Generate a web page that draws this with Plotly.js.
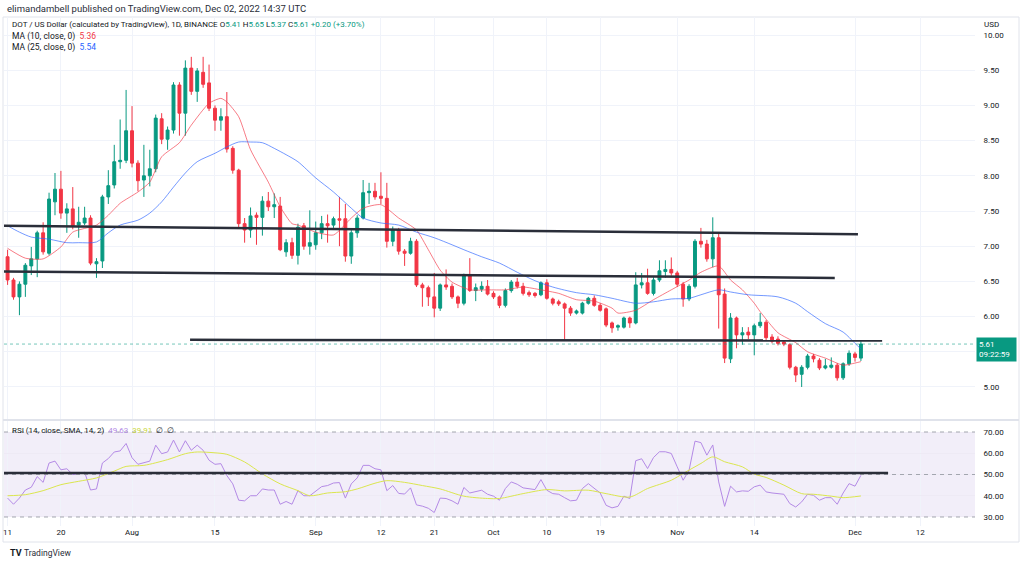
<!DOCTYPE html>
<html>
<head>
<meta charset="utf-8">
<script src="https://cdn.plot.ly/plotly-3.0.1.min.js"></script>
<style>
  html, body { margin: 0; padding: 0; background: #fff; }
  #chart { width: 1024px; height: 565px; }
</style>
</head>
<body>
<div id="chart"></div>
<script>
// DOT/USD daily candles, Jul 11 - Dec 2 2022
var firstDay = "2022-07-11";

var opens = [
  6.85,6.52,6.28,6.46,6.72,6.82,7.19,6.90,7.63,7.81,7.47,7.53,7.30,7.33,7.40,6.75,6.79,7.70,7.87,8.20,8.22,
  8.64,8.18,7.94,8.00,8.10,8.81,8.52,8.65,9.29,8.89,9.53,9.20,9.47,9.32,8.96,8.79,8.84,8.39,8.08,7.32,7.23,7.44,7.41,7.64,7.56,7.57,6.92,7.05,6.87,7.29,7.00,
  7.02,7.19,7.32,7.30,7.39,7.39,6.86,7.19,7.40,7.76,7.78,7.71,7.68,7.07,7.23,6.93,6.90,7.07,6.45,6.41,6.28,6.12,6.45,6.43,6.28,6.19,6.58,6.37,6.39,6.43,
  6.33,6.28,6.16,6.37,6.49,6.43,6.34,6.33,6.31,6.48,6.25,6.21,6.18,6.12,6.05,6.05,6.19,6.26,6.16,6.11,5.91,5.85,5.85,5.98,5.91,6.45,6.48,6.33,6.52,6.64,6.67,
  6.62,6.46,6.25,6.43,7.07,7.03,6.82,7.12,6.32,5.40,5.98,5.74,5.78,5.74,5.87,5.92,5.71,5.68,5.64,5.60,5.28,5.18,5.28,5.44,5.38,5.27,5.28,5.31,5.13,5.33,
  5.47,5.41
];
var highs = [
  6.95,6.55,6.50,6.76,6.99,7.22,7.34,7.76,8.04,8.07,7.61,7.84,7.56,7.56,7.44,6.83,7.73,8.08,8.44,8.80,9.22,
  8.99,8.22,8.44,8.37,8.87,8.89,8.70,9.33,9.33,9.64,9.69,9.53,9.69,9.58,9.00,8.96,9.19,8.42,8.10,7.40,7.55,7.48,7.71,7.77,7.75,7.70,7.10,7.12,7.32,7.33,7.51,
  7.35,7.43,7.45,7.42,7.70,7.60,7.23,7.44,7.94,7.90,7.90,8.05,7.90,7.28,7.26,6.96,7.12,7.10,6.48,6.44,6.62,6.47,6.67,6.47,6.30,6.61,6.83,6.47,6.50,6.52,
  6.36,6.30,6.40,6.52,6.55,6.48,6.37,6.35,6.50,6.53,6.27,6.24,6.20,6.15,6.10,6.21,6.28,6.30,6.19,6.13,5.93,5.89,6.00,6.00,6.63,6.62,6.68,6.56,6.80,6.80,6.84,
  6.65,6.49,6.46,7.10,7.26,7.09,7.41,7.18,6.40,6.05,6.00,5.85,5.85,5.90,6.05,5.95,5.75,5.72,5.66,5.62,5.30,5.31,5.47,5.47,5.41,5.40,5.42,5.34,5.35,5.52,
  5.50,5.65
];
var lows = [
  6.45,6.24,6.02,6.28,6.59,6.56,6.88,6.87,7.44,7.39,7.19,7.24,7.12,7.30,6.73,6.55,6.69,7.60,7.82,8.10,8.18,
  8.12,7.78,7.70,7.85,8.05,8.45,8.37,8.60,8.57,8.57,9.15,9.05,9.25,8.92,8.64,8.64,8.33,8.03,7.25,7.05,7.12,7.02,7.15,7.50,7.40,6.93,6.85,6.82,6.74,6.95,6.88,
  6.95,7.10,7.05,7.26,7.00,6.78,6.75,7.12,7.38,7.60,7.66,7.60,6.98,7.00,6.88,6.72,6.88,6.42,6.14,6.15,5.99,6.08,6.38,6.25,6.12,6.16,6.35,6.22,6.35,6.30,
  6.25,6.12,6.13,6.34,6.40,6.30,6.28,6.27,6.29,6.24,6.16,6.15,5.67,6.01,6.03,6.03,6.17,6.14,6.07,5.85,5.77,5.80,5.83,5.84,5.89,6.40,6.31,6.30,6.49,6.55,6.58,
  6.42,6.14,6.22,6.40,6.98,6.78,6.70,5.83,5.34,5.34,5.55,5.60,5.68,5.45,5.84,5.66,5.62,5.59,5.58,5.25,5.07,5.00,5.25,5.35,5.24,5.25,5.26,5.09,5.10,5.30,
  5.36,5.37
];
var closes = [
  6.52,6.28,6.46,6.73,6.82,7.19,6.92,7.67,7.81,7.47,7.53,7.29,7.34,7.40,6.76,6.78,7.70,7.86,8.20,8.22,8.64,
  8.18,7.93,8.00,8.10,8.82,8.52,8.65,9.29,8.89,9.53,9.20,9.49,9.30,8.96,8.79,8.84,8.38,8.08,7.32,7.23,7.43,7.41,7.64,7.56,7.59,6.95,7.05,6.87,7.27,7.00,7.05,
  7.19,7.32,7.29,7.39,7.37,6.86,7.19,7.40,7.76,7.78,7.70,7.68,7.07,7.23,6.93,6.90,7.07,6.45,6.41,6.28,6.12,6.45,6.42,6.28,6.19,6.58,6.37,6.41,6.43,6.32,
  6.28,6.16,6.37,6.49,6.43,6.33,6.31,6.30,6.48,6.26,6.19,6.18,6.12,6.05,6.08,6.19,6.26,6.16,6.09,5.88,5.84,5.87,5.98,5.91,6.45,6.48,6.33,6.52,6.65,6.67,6.62,
  6.46,6.25,6.43,7.07,7.03,6.82,7.12,6.31,5.41,5.98,5.74,5.77,5.74,5.87,5.92,5.70,5.65,5.62,5.61,5.28,5.17,5.28,5.44,5.40,5.27,5.30,5.31,5.13,5.33,5.48,
  5.42,5.61
];

// RSI(14), one value per candle
var rsiValues = [
  38.9,36.0,38.9,42.7,44.0,49.0,46.3,55.4,56.3,52.2,52.7,50.0,50.3,51.1,42.7,43.2,55.4,57.5,60.6,61.1,64.6,
  57.9,54.8,55.6,56.3,63.8,59.8,60.6,66.2,60.6,65.9,61.4,63.8,61.4,56.7,54.8,55.1,49.5,45.6,37.9,37.6,40.0,40.0,43.2,42.7,42.7,36.0,37.3,36.0,42.4,40.0,40.0,
  42.1,44.3,44.8,46.0,46.2,38.9,45.6,48.4,54.3,54.3,52.7,52.2,42.4,44.8,41.1,40.8,43.7,35.7,35.1,34.1,32.1,38.9,38.7,37.6,36.0,43.9,41.3,41.8,42.6,40.7,
  39.8,37.9,43.4,46.5,45.4,43.7,43.2,42.9,47.6,42.6,41.0,40.7,39.1,37.6,37.9,43.4,45.7,43.4,41.3,35.5,34.3,35.0,39.8,38.7,56.5,57.4,52.8,58.0,60.7,60.7,59.9,
  53.6,47.3,52.0,65.7,65.0,59.1,63.9,46.5,35.0,44.5,41.8,42.3,42.1,44.2,45.0,41.8,41.3,41.0,40.7,36.3,34.7,37.1,40.7,40.2,37.9,39.1,39.1,36.0,41.3,45.7,
  44.5,49.6
];

// moving averages read at points along the drawn lines
var ma10Dates = ["2022-07-11","2022-07-14","2022-07-17","2022-07-20","2022-07-22","2022-07-26","2022-07-28","2022-07-30","2022-08-02","2022-08-04",
  "2022-08-06","2022-08-09","2022-08-11","2022-08-14","2022-08-16","2022-08-17","2022-08-19","2022-08-21","2022-08-24","2022-08-26",
  "2022-08-28","2022-08-29","2022-09-01","2022-09-04","2022-09-07","2022-09-09","2022-09-12","2022-09-15","2022-09-18","2022-09-20",
  "2022-09-22","2022-09-24","2022-09-27","2022-09-30","2022-10-03","2022-10-06","2022-10-09","2022-10-12","2022-10-15","2022-10-18",
  "2022-10-21","2022-10-22","2022-10-25","2022-10-28","2022-10-31","2022-11-03","2022-11-05","2022-11-08","2022-11-10","2022-11-12",
  "2022-11-14","2022-11-15","2022-11-18","2022-11-21","2022-11-23","2022-11-26","2022-11-29","2022-12-01","2022-12-02"];
var ma10Values = [6.97,6.83,6.82,6.99,7.20,7.30,7.44,7.61,7.77,7.91,
  8.27,8.47,8.72,9.03,9.10,9.05,8.84,8.37,7.91,7.56,
  7.32,7.30,7.20,7.16,7.40,7.54,7.59,7.40,7.23,6.95,
  6.66,6.49,6.38,6.38,6.38,6.42,6.38,6.33,6.24,6.22,
  6.12,6.05,6.09,6.24,6.38,6.52,6.63,6.72,6.52,6.38,
  6.19,6.07,5.77,5.63,5.50,5.41,5.31,5.34,5.36];

var ma25Dates = ["2022-07-11","2022-07-13","2022-07-15","2022-07-18","2022-07-21","2022-07-23","2022-07-26","2022-07-28","2022-07-30","2022-08-02",
  "2022-08-04","2022-08-06","2022-08-08","2022-08-10","2022-08-12","2022-08-15","2022-08-17","2022-08-19","2022-08-21","2022-08-23",
  "2022-08-25","2022-08-27","2022-08-29","2022-09-01","2022-09-04","2022-09-07","2022-09-09","2022-09-12","2022-09-15","2022-09-18",
  "2022-09-21","2022-09-24","2022-09-26","2022-09-29","2022-10-02","2022-10-05","2022-10-08","2022-10-11","2022-10-15","2022-10-18",
  "2022-10-21","2022-10-25","2022-10-28","2022-10-31","2022-11-03","2022-11-05","2022-11-08","2022-11-10","2022-11-13","2022-11-18",
  "2022-11-21","2022-11-23","2022-11-26","2022-11-29","2022-12-01","2022-12-02"];
var ma25Values = [7.29,7.20,7.13,7.10,7.05,7.05,7.06,7.19,7.30,7.37,
  7.47,7.63,7.84,8.04,8.20,8.32,8.41,8.48,8.48,8.47,
  8.39,8.30,8.20,7.97,7.77,7.54,7.40,7.33,7.30,7.20,
  7.12,7.02,6.95,6.85,6.76,6.63,6.51,6.42,6.34,6.31,
  6.26,6.19,6.21,6.25,6.26,6.31,6.38,6.35,6.31,6.28,
  6.19,6.07,5.90,5.78,5.62,5.54];

var rsiMaDates = ["2022-07-11","2022-07-14","2022-07-17","2022-07-20","2022-07-23","2022-07-26","2022-07-29","2022-07-31","2022-08-03","2022-08-07",
  "2022-08-10","2022-08-12","2022-08-15","2022-08-17","2022-08-20","2022-08-23","2022-08-26","2022-08-29","2022-08-31","2022-09-03",
  "2022-09-06","2022-09-08","2022-09-11","2022-09-13","2022-09-16","2022-09-19","2022-09-22","2022-09-26","2022-09-30","2022-10-02",
  "2022-10-06","2022-10-10","2022-10-13","2022-10-17","2022-10-20","2022-10-24","2022-10-27","2022-10-31","2022-11-02","2022-11-05",
  "2022-11-07","2022-11-09","2022-11-12","2022-11-14","2022-11-16","2022-11-19","2022-11-22","2022-11-24","2022-11-27","2022-11-29","2022-12-02"];
var rsiMaValues = [40.0,40.5,42.4,45.2,46.8,48.4,51.6,53.8,54.3,57.0,
  59.8,60.6,60.2,59.5,55.9,50.3,45.6,42.4,40.0,41.3,
  41.9,43.2,45.9,47.1,46.3,44.8,43.2,39.8,38.7,38.7,
  41.0,42.9,42.3,42.6,41.0,39.4,43.4,47.3,50.5,55.2,
  58.3,56.0,53.6,50.2,48.6,45.0,41.0,40.7,39.8,39.1,39.9];

// hand drawn horizontal lines: [start, end, price at start, price at end]
var priceLines = [
  ["2022-07-10 06:00", "2022-12-01 12:00", 7.29, 7.17],
  ["2022-07-10 06:00", "2022-11-27 14:00", 6.64, 6.55],
  ["2022-08-10 19:00", "2022-12-05 14:00", 5.67, 5.66]
];
var rsiLine = ["2022-07-10 06:00", "2022-12-06 14:00", 50.7, 50.7];

var tickDates = ["2022-07-11","2022-07-20","2022-08-01","2022-08-15","2022-09-01","2022-09-12","2022-09-21",
  "2022-10-01","2022-10-10","2022-10-19","2022-11-01","2022-11-14","2022-12-01","2022-12-12"];
var tickLabels = ["11","20","Aug","15","Sep","12","21","Oct","10","19","Nov","14","Dec","12"];

// price scale; 5.50 sits under the last-price tag
var priceTicks = [5, 5.5, 6, 6.5, 7, 7.5, 8, 8.5, 9, 9.5, 10];
var priceTickText = ["5.00", "", "6.00", "6.50", "7.00", "7.50", "8.00", "8.50", "9.00", "9.50", "10.00"];

var lastClose = 5.61;

var dates = [];
var t0 = new Date(firstDay + "T00:00:00Z").getTime();
for (var i = 0; i < closes.length; i++) {
  dates.push(new Date(t0 + i * 86400000).toISOString().slice(0, 10));
}

var green = "#089981";
var red = "#f23645";
var ink = "#131722";
var font = "Roboto, 'Open Sans', sans-serif";

var candles = {
  type: "candlestick",
  x: dates, open: opens, high: highs, low: lows, close: closes,
  xaxis: "x", yaxis: "y",
  increasing: {line: {color: green, width: 1}, fillcolor: green},
  decreasing: {line: {color: red, width: 1}, fillcolor: red},
  whiskerwidth: 0,
  hoverinfo: "skip"
};
var ma10 = {
  type: "scatter", mode: "lines", x: ma10Dates, y: ma10Values,
  line: {color: "rgba(242,54,69,0.65)", width: 1, shape: "spline", smoothing: 0.6},
  hoverinfo: "skip"
};
var ma25 = {
  type: "scatter", mode: "lines", x: ma25Dates, y: ma25Values,
  line: {color: "rgba(41,98,255,0.65)", width: 1, shape: "spline", smoothing: 0.8},
  hoverinfo: "skip"
};
var rsi = {
  type: "scatter", mode: "lines", x: dates, y: rsiValues, yaxis: "y2",
  line: {color: "#b48ae6", width: 1}, hoverinfo: "skip"
};
var rsiMa = {
  type: "scatter", mode: "lines", x: rsiMaDates, y: rsiMaValues, yaxis: "y2",
  line: {color: "#dbe64e", width: 1, shape: "spline", smoothing: 0.8}, hoverinfo: "skip"
};

var px = function (x) { return x / 1024; };
var py = function (y) { return 1 - y / 565; };

var shapes = [
  // chart frame and pane separator
  {type: "rect", xref: "paper", yref: "paper", x0: px(3), x1: px(1019), y0: py(542), y1: py(17),
   line: {color: "#e0e3eb", width: 1}, layer: "below"},
  {type: "line", xref: "paper", yref: "paper", x0: px(3), x1: px(1019), y0: py(420), y1: py(420),
   line: {color: "#e0e3eb", width: 2}},
  // RSI band
  {type: "rect", xref: "paper", yref: "y2", x0: px(4), x1: px(975), y0: 30, y1: 70,
   fillcolor: "rgba(126,87,194,0.1)", line: {width: 0}, layer: "below"},
  {type: "line", xref: "paper", yref: "y2", x0: px(4), x1: px(975), y0: 70, y1: 70,
   line: {color: "#a3a6af", width: 1, dash: "4px,4px"}},
  {type: "line", xref: "paper", yref: "y2", x0: px(4), x1: px(975), y0: 50, y1: 50,
   line: {color: "#a3a6af", width: 1, dash: "4px,4px"}},
  {type: "line", xref: "paper", yref: "y2", x0: px(4), x1: px(975), y0: 30, y1: 30,
   line: {color: "#a3a6af", width: 1, dash: "4px,4px"}},
  // last price line
  {type: "line", xref: "paper", yref: "y", x0: px(4), x1: px(975), y0: lastClose, y1: lastClose,
   line: {color: "rgba(8,153,129,0.55)", width: 1, dash: "dot"}}
];
priceLines.forEach(function (l) {
  shapes.push({type: "line", xref: "x", yref: "y", x0: l[0], x1: l[1], y0: l[2], y1: l[3],
    line: {color: "#2a2e39", width: 2.5}});
});
shapes.push({type: "line", xref: "x", yref: "y2", x0: rsiLine[0], x1: rsiLine[1], y0: rsiLine[2], y1: rsiLine[3],
  line: {color: "#2a2e39", width: 2.5}});

function note(text, x, y, size, color, extra) {
  var a = {text: text, xref: "paper", yref: "paper", x: px(x), y: py(y), xanchor: "left", yanchor: "middle",
    showarrow: false, font: {family: font, size: size, color: color}};
  for (var k in extra) a[k] = extra[k];
  return a;
}
var g = function (s) { return "<span style='color:" + green + "'>" + s + "</span>"; };

var annotations = [
  note("elimandambell published on TradingView.com, Dec 02, 2022 14:37 UTC", 5, 8, 9.5, "#2a2e39"),
  note("DOT / US Dollar (calculated by TradingView), 1D, BINANCE O" + g("5.41") + " H" + g("5.65") +
       " L" + g("5.37") + " C" + g("5.61") + " " + g("+0.20 (+3.70%)"), 10, 25, 8, ink),
  note("MA (10, close, 0)  <span style='color:" + red + "'>5.36</span>", 10, 36, 8.5, ink),
  note("MA (25, close, 0)  <span style='color:#2962ff'>5.54</span>", 10, 47, 8.5, ink),
  note("RSI (14, close, SMA, 14, 2)  <span style='color:#b48ae6'>49.63</span>  <span style='color:#c9d63a'>39.91</span>  ∅  ∅",
       10, 430, 8, ink),
  note("USD", 982, 25, 8, ink),
  note("<b>TV</b>", 8, 553, 9, ink),
  note("TradingView", 22, 553, 8.5, "#2a2e39"),
  {text: "5.61<br>09:22:59", xref: "paper", yref: "y", x: px(976), y: lastClose, xanchor: "left", yanchor: "top",
   yshift: 7, showarrow: false, align: "left", bgcolor: green, borderpad: 2, width: 35,
   font: {family: font, size: 8, color: "#ffffff"}}
];

var layout = {
  width: 1024, height: 565,
  margin: {l: 0, r: 0, t: 0, b: 0},
  paper_bgcolor: "#ffffff", plot_bgcolor: "#ffffff",
  showlegend: false, hovermode: false, dragmode: false,
  font: {family: font, size: 8, color: ink},
  xaxis: {
    type: "date", domain: [px(4), px(975)], anchor: "y2",
    range: ["2022-07-10 09:30", "2022-12-21 06:00"],
    tickmode: "array", tickvals: tickDates, ticktext: tickLabels,
    showgrid: true, gridcolor: "#f0f3fa", zeroline: false, showline: false,
    ticks: "", tickfont: {size: 8, color: ink},
    rangeslider: {visible: false}
  },
  yaxis: {
    domain: [py(420), py(17)], range: [4.531, 10.256], side: "right", anchor: "x",
    tickmode: "array", tickvals: priceTicks, ticktext: priceTickText,
    showgrid: true, gridcolor: "#f0f3fa", zeroline: false, showline: false,
    ticks: "outside", ticklen: 6, tickcolor: "rgba(0,0,0,0)", tickfont: {size: 8, color: ink}
  },
  yaxis2: {
    domain: [py(526), py(420)], range: [25.76, 75.65], side: "right", anchor: "x",
    tickvals: [30, 40, 50, 60, 70], tickformat: ".2f",
    showgrid: true, gridcolor: "#eeeaf5", zeroline: false, showline: false,
    ticks: "outside", ticklen: 6, tickcolor: "rgba(0,0,0,0)", tickfont: {size: 8, color: ink}
  },
  shapes: shapes,
  annotations: annotations
};

Plotly.newPlot("chart", [candles, ma10, ma25, rsi, rsiMa], layout, {staticPlot: true, displayModeBar: false});
</script>
</body>
</html>
